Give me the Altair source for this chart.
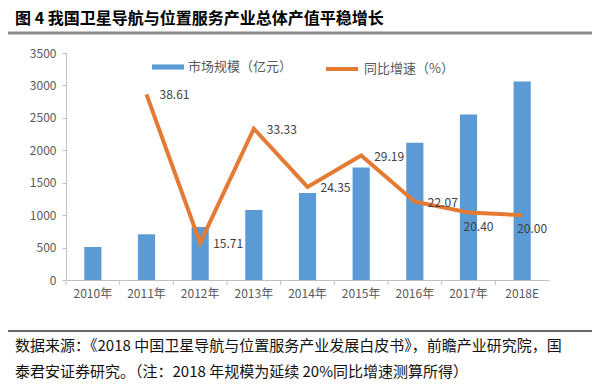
import altair as alt
import pandas as pd

years = ["2010年", "2011年", "2012年", "2013年", "2014年", "2015年", "2016年", "2017年", "2018E"]
market = [509, 705, 816, 1080, 1343, 1735, 2118, 2550, 3060]
growth = [None, 38.61, 15.71, 33.33, 24.35, 29.19, 22.07, 20.40, 20.00]
labels_above = ["2011年", "2012年", "2013年", "2014年", "2015年", "2016年"]
labels_below = ["2017年", "2018E"]

title_text = "图 4  我国卫星导航与位置服务产业总体产值平稳增长"
source_1 = "数据来源：《2018 中国卫星导航与位置服务产业发展白皮书》，前瞻产业研究院，国"
source_2 = "泰君安证券研究。（注：2018 年规模为延续 20%同比增速测算所得）"
bar_name = "市场规模（亿元）"
line_name = "同比增速（%）"

FONT = "Noto Sans CJK SC"
BLUE = "#5B9BD5"
ORANGE = "#E47B35"
W, H = 483, 227
STEP = W / len(years)

df = pd.DataFrame({"year": years, "market": market, "growth": growth,
                   "bar_s": [bar_name] * len(years), "line_s": [line_name] * len(years)})

xenc = alt.X("year:N", sort=years,
             scale=alt.Scale(paddingInner=0.68, paddingOuter=0.34),
             axis=alt.Axis(title=None, labelAngle=0, ticks=False, domainColor="#BFBFBF",
                           labelColor="#595959", labelFont=FONT, labelFontSize=12,
                           labelPadding=8))

base = alt.Chart(df)

bars = base.mark_bar(color=BLUE).encode(
    x=xenc,
    y=alt.Y("market:Q", scale=alt.Scale(domain=[0, 3500]),
            axis=alt.Axis(title=None, values=list(range(0, 3501, 500)), grid=False, format="d",
                          domainColor="#BFBFBF", tickColor="#BFBFBF", tickSize=4,
                          labelColor="#595959", labelFont=FONT, labelFontSize=12,
                          labelPadding=6)),
    color=alt.Color("bar_s:N", scale=alt.Scale(domain=[bar_name], range=[BLUE]),
                    legend=alt.Legend(title=None, orient="none", legendX=86, legendY=-2,
                                      symbolType="M-1,-0.16L1,-0.16L1,0.16L-1,0.16Z",
                                      symbolSize=1024, symbolStrokeWidth=0,
                                      labelFont=FONT, labelFontSize=13, labelColor="#595959",
                                      labelOffset=4)),
)

xticks = base.mark_rule(color="#BFBFBF", xOffset=-STEP / 2).encode(
    x=alt.X("year:N", sort=years), y=alt.value(H), y2=alt.value(H + 5))

yright = alt.Y("growth:Q", scale=alt.Scale(domain=[10, 45]),
               axis=alt.Axis(title=None, orient="right", values=list(range(10, 46, 5)), grid=False,
                             domainColor="#BFBFBF", tickColor="#BFBFBF", tickSize=4,
                             labelColor="#595959", labelFont=FONT, labelFontSize=12,
                             labelPadding=4))

line = base.transform_filter("datum.growth != null").mark_line(strokeWidth=4).encode(
    x=alt.X("year:N", sort=years),
    y=yright,
    color=alt.Color("line_s:N", scale=alt.Scale(domain=[line_name], range=[ORANGE]),
                    legend=alt.Legend(title=None, orient="none", legendX=258, legendY=-2,
                                      symbolType="stroke", symbolSize=1024,
                                      symbolStrokeWidth=4,
                                      labelFont=FONT, labelFontSize=13, labelColor="#595959",
                                      labelOffset=4)),
)

lab_a = base.transform_filter(alt.FieldOneOfPredicate(field="year", oneOf=labels_above)).mark_text(
    align="left", baseline="middle", dx=13, dy=1, font=FONT, fontSize=12, color="#404040").encode(
    x=alt.X("year:N", sort=years), y=alt.Y("growth:Q", scale=alt.Scale(domain=[10, 45]), axis=None),
    text=alt.Text("growth:Q", format=".2f"))

lab_b = base.transform_filter(alt.FieldOneOfPredicate(field="year", oneOf=labels_below)).mark_text(
    align="center", baseline="middle", dx=10, dy=14, font=FONT, fontSize=12, color="#404040").encode(
    x=alt.X("year:N", sort=years), y=alt.Y("growth:Q", scale=alt.Scale(domain=[10, 45]), axis=None),
    text=alt.Text("growth:Q", format=".2f"))

one = alt.Data(values=[{"a": 1}])
title = alt.Chart(one).mark_text(text=title_text, align="left", baseline="middle", font=FONT,
                                 fontSize=16, fontWeight="bold", color="#000000").encode(
    x=alt.value(-51), y=alt.value(-34))
grayline = alt.Chart(one).mark_rule(color="#8C8C8C", strokeWidth=3).encode(
    x=alt.value(-61), x2=alt.value(529), y=alt.value(-20))
blackline = alt.Chart(one).mark_rule(color="#333333", strokeWidth=1.5).encode(
    x=alt.value(-61), x2=alt.value(529), y=alt.value(278))
src1 = alt.Chart(one).mark_text(text=source_1, align="left", baseline="middle", font=FONT,
                                fontSize=15, color="#111111").encode(
    x=alt.value(-51), y=alt.value(293))
src2 = alt.Chart(one).mark_text(text=source_2, align="left", baseline="middle", font=FONT,
                                fontSize=15, color="#111111").encode(
    x=alt.value(-51), y=alt.value(319))

left = alt.layer(bars, xticks)
right = alt.layer(line, lab_a, lab_b)

chart = alt.layer(left, right, title, grayline, blackline, src1, src2).resolve_scale(
    y="independent", color="independent"
).properties(
    width=W, height=H,
    autosize=alt.AutoSizeParams(type="none"),
    padding={"left": 58, "top": 45, "right": 43, "bottom": 101},
    background="#FFFFFF",
).configure_view(stroke=None)

chart.save("out.html", embed_options={"renderer": "svg", "actions": False})
